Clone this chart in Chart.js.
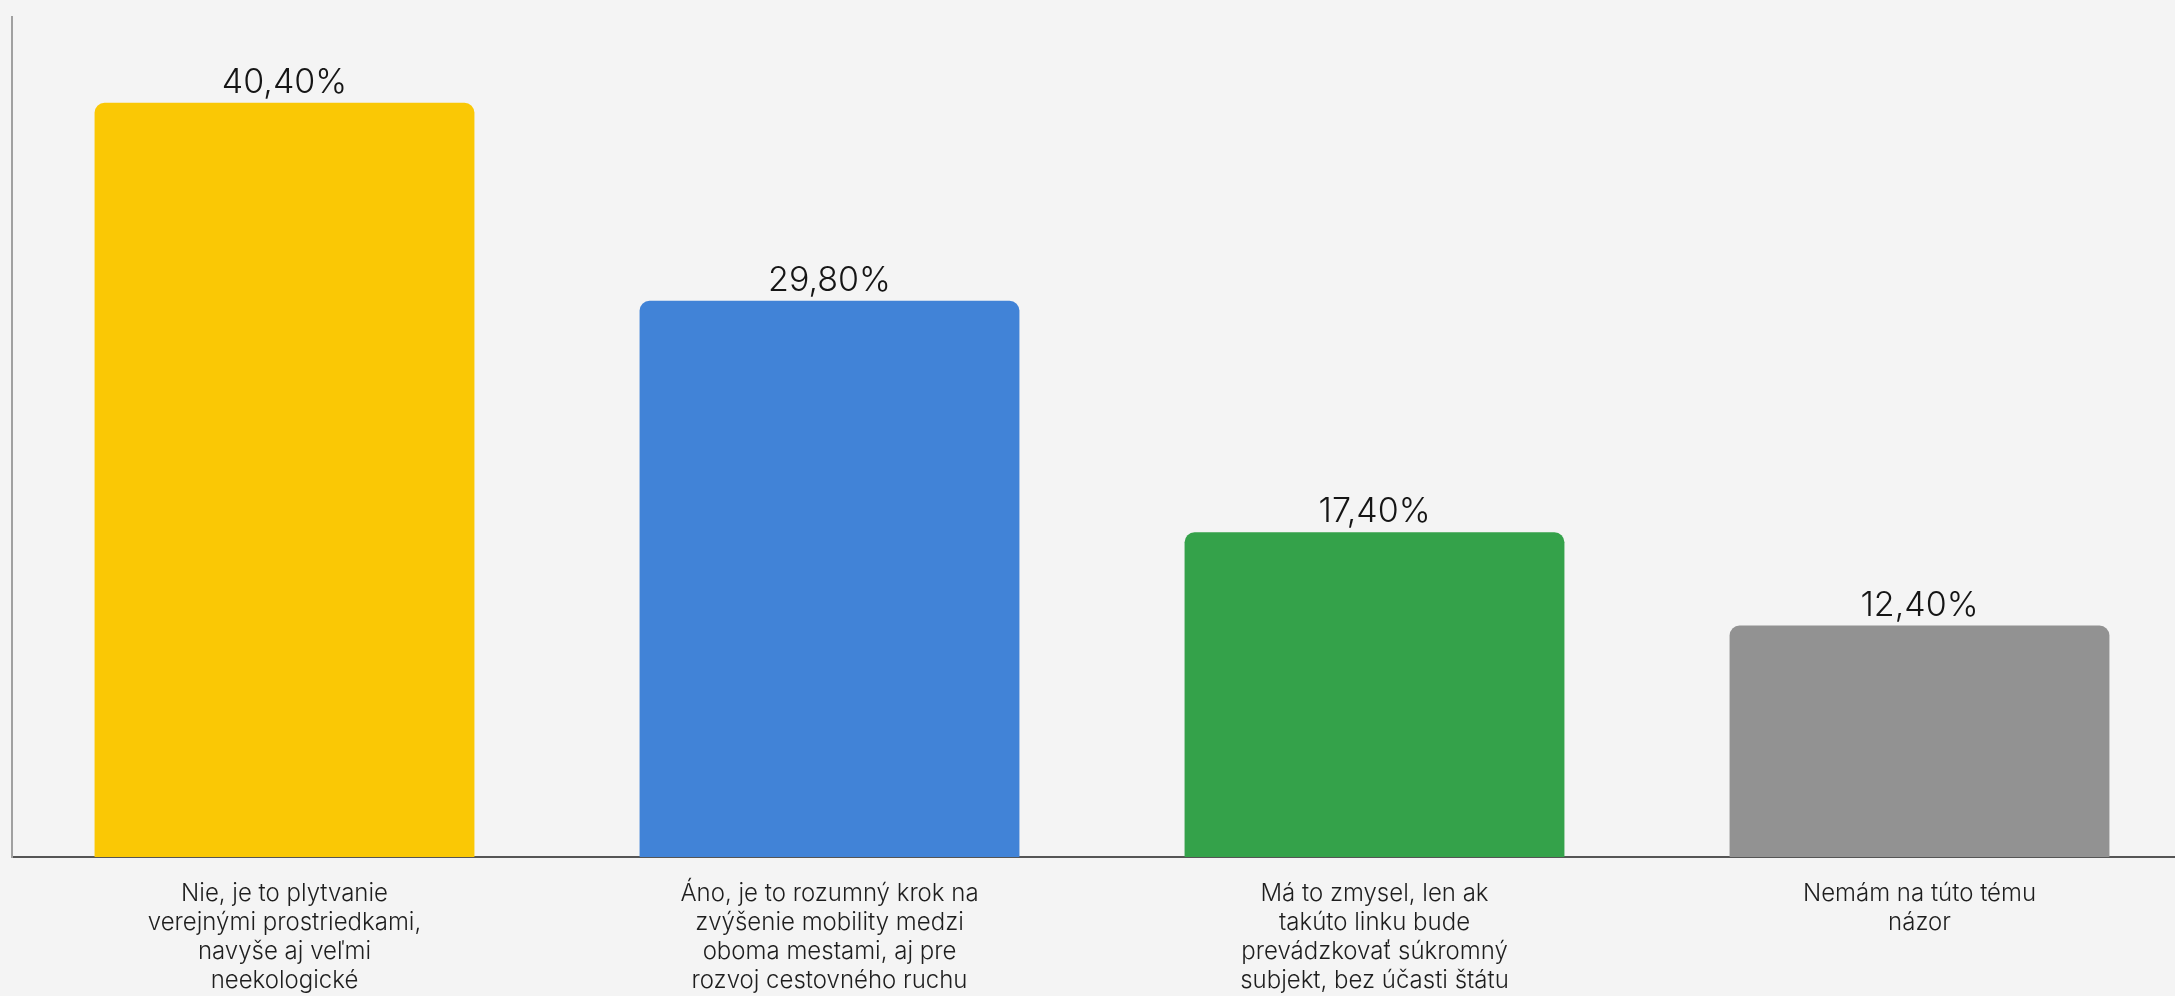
<!DOCTYPE html>
<html lang="sk">

<head>
    <meta charset="UTF-8">
    <title>Graf</title>
    <script src="https://cdn.jsdelivr.net/npm/chart.js"></script>
    <style>
        html, body {
            margin: 0;
            padding: 0;
            background: #f4f4f4;
            overflow: hidden;
        }

        .campo_grafico {
            position: relative;
            width: 2200px;
            height: 996px;
        }
    </style>
</head>

<body>
    <div class="campo_grafico">
        <canvas id="grafico" width="2200" height="996"></canvas>
    </div>

    <script>
        // kategorie (viac riadkov na jednu odpoved)
        const odpovede = [
            ['Nie, je to plytvanie', 'verejnými prostriedkami,', 'navyše aj veľmi', 'neekologické'],
            ['Áno, je to rozumný krok na', 'zvýšenie mobility medzi', 'oboma mestami, aj pre', 'rozvoj cestovného ruchu'],
            ['Má to zmysel, len ak', 'takúto linku bude', 'prevádzkovať súkromný', 'subjekt, bez účasti štátu'],
            ['Nemám na túto tému', 'názor']
        ]
        const percenta = [40.4, 29.8, 17.4, 12.4]
        const farby = ['#fac805', '#4183d7', '#34a24a', '#929292']

        function formatPercento(hodnota) {
            return hodnota.toFixed(2).replace('.', ',') + '%'
        }

        // popisky nad stlpcami
        const popiskyPlugin = {
            id: 'popisky',
            afterDatasetsDraw(chart) {
                const ctx = chart.ctx
                const meta = chart.getDatasetMeta(0)
                ctx.save()
                ctx.font = '300 34px Inter'
                ctx.fillStyle = '#151515'
                ctx.textAlign = 'center'
                ctx.textBaseline = 'bottom'
                meta.data.forEach(function (bar, i) {
                    ctx.fillText(formatPercento(percenta[i]), bar.x, bar.y - 3)
                })
                ctx.restore()
            }
        }

        const ctx = document.getElementById('grafico')

        new Chart(ctx, {
            type: 'bar',
            data: {
                labels: odpovede,
                datasets: [{
                    data: percenta,
                    backgroundColor: farby,
                    borderRadius: { topLeft: 10, topRight: 10 },
                    borderSkipped: 'bottom',
                    categoryPercentage: 1,
                    barPercentage: 0.697
                }]
            },
            options: {
                responsive: false,
                animation: false,
                devicePixelRatio: 1,
                layout: {
                    padding: { top: 17, left: 12, right: 8, bottom: 0 }
                },
                plugins: {
                    legend: { display: false },
                    tooltip: { enabled: false }
                },
                scales: {
                    x: {
                        grid: { display: false, drawTicks: false },
                        border: { color: '#555', width: 2 },
                        ticks: {
                            color: '#1e1e1e',
                            padding: 22,
                            maxRotation: 0,
                            autoSkip: false,
                            font: { family: 'Inter', size: 24, weight: '300', lineHeight: 1.21 }
                        },
                        afterFit: function (escala) {
                            escala.height = 139
                        }
                    },
                    y: {
                        min: 0,
                        max: 45,
                        grid: { display: false, drawTicks: false },
                        border: { color: '#a0a0a0', width: 2 },
                        ticks: { display: false }
                    }
                }
            },
            plugins: [popiskyPlugin]
        })
    </script>
</body>

</html>
